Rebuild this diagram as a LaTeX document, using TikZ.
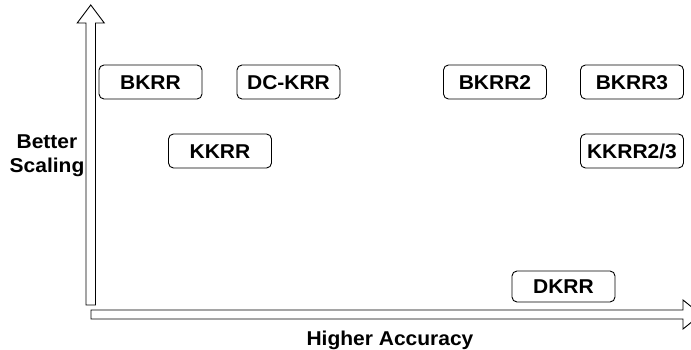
\documentclass[tikz,border=0pt]{standalone}
\usepackage{fontspec}
\setmainfont{Liberation Sans}[FakeStretch=1.05]
\usetikzlibrary{positioning}

\begin{document}
\begin{tikzpicture}[x=1pt,y=-1pt,line width=0.9pt,
                    method/.style={rectangle,rounded corners=5pt,draw,
                      minimum width=103pt,minimum height=34pt,inner sep=0pt,
                      text height=14.3pt,text depth=0pt,
                      font=\fontsize{20}{24}\selectfont\bfseries},
                    axis label/.style={font=\fontsize{20}{24}\selectfont\bfseries,
                      align=center,inner sep=0pt}]
  \useasboundingbox (0,0) rectangle (691,350);
  % axes
  \draw[fill=white] (86,305) -- (86,23) -- (77.25,23) -- (90.75,5)
    -- (104.25,23) -- (95.5,23) -- (95.5,305) -- cycle;
  \draw[fill=white] (91,310) -- (683,310) -- (683,300) -- (701,314.5)
    -- (683,329) -- (683,319) -- (91,319) -- cycle;
  \node[axis label] (scaling) at (47,156) {Better\\Scaling};
  \node[axis label,anchor=base] (accuracy) at (390,345) {Higher Accuracy};
  % methods
  \node[method] (bkrr) at (150.5,82) {BKRR};
  \node[method] (dckrr) at (288.5,82) {DC-KRR};
  \node[method] (kkrr) at (220,151) {KKRR};
  \node[method] (bkrr2) at (495,82) {BKRR2};
  \node[method] (bkrr3) at (632,82) {BKRR3};
  \node[method] (kkrr23) at (632,151) {KKRR2/3};
  \node[method,minimum height=31pt] (dkrr) at (563.5,286.5) {DKRR};
\end{tikzpicture}
\end{document}
